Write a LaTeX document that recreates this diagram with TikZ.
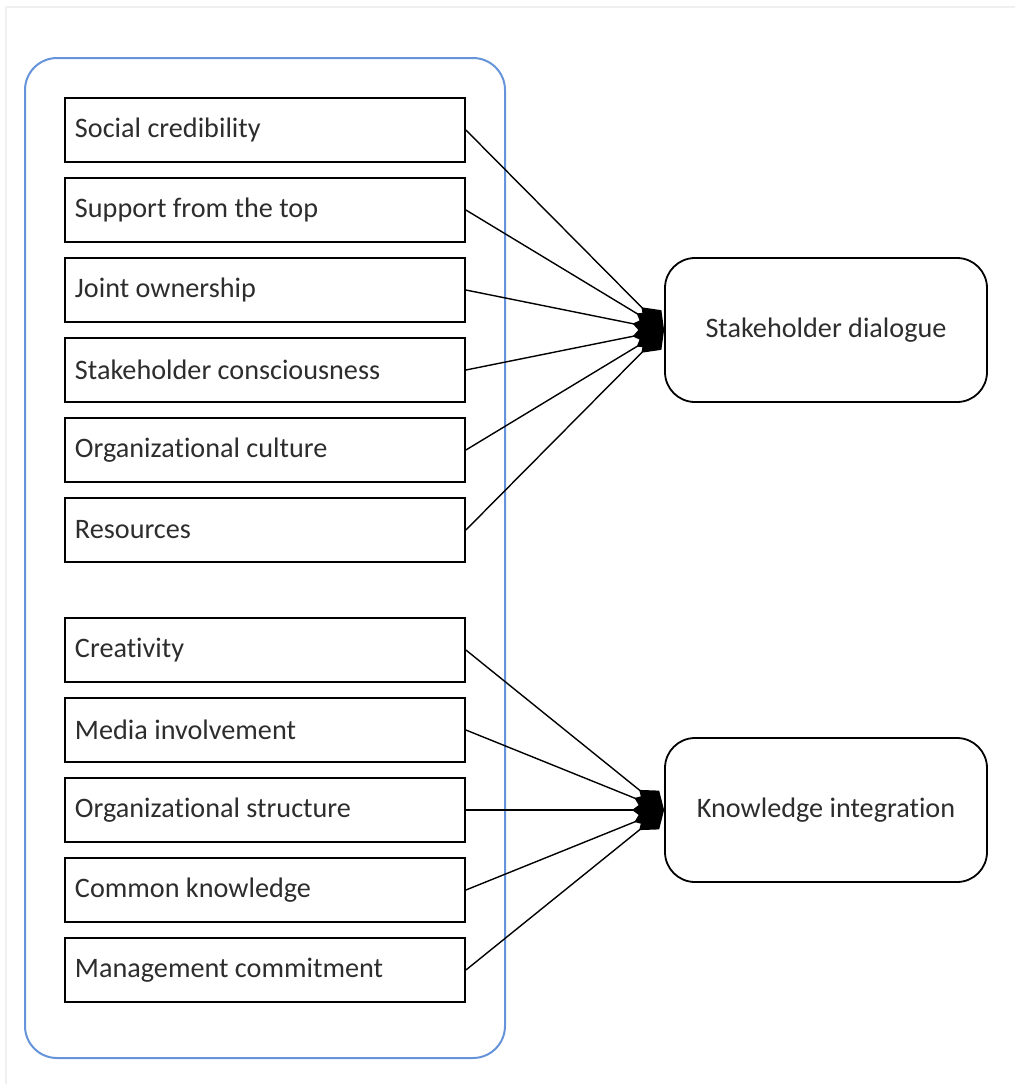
\documentclass[tikz,border=0pt]{standalone}
\usepackage{fontspec}
\setmainfont{Carlito}[Ligatures=NoCommon]
\usetikzlibrary{arrows.meta}
\definecolor{groupblue}{RGB}{102,148,218}
\definecolor{inktext}{RGB}{45,45,45}
\begin{document}
\begin{tikzpicture}[x=0.5pt,y=-0.5pt,
  factor/.style={draw=black, line width=0.9pt, rectangle, minimum width=200pt,
    minimum height=32pt, text width=190pt, inner xsep=5pt, align=flush left,
    font=\fontsize{14.1}{16}\selectfont, text=inktext},
  outcome/.style={draw=black, line width=0.9pt, rectangle, rounded corners=15pt,
    minimum width=161pt, minimum height=72pt, align=center,
    font=\fontsize{14.1}{16}\selectfont, text=inktext},
  link/.style={line width=0.7pt, -{Diamond[length=16pt,width=12pt]}}]
  \useasboundingbox (0,0) rectangle (1015,1084);
  % faint outer frame
  \draw[black!6, line width=0.6pt] (6,1090) -- (6,7) -- (1020,7);
  % grouping frame around the factors
  \draw[groupblue, line width=1pt, rounded corners=16pt] (25,58) rectangle (505,1058);
  % factor boxes
  \node[factor] (f1) at (265,130) {Social credibility};
  \node[factor] (f2) at (265,210) {Support from the top};
  \node[factor] (f3) at (265,290) {Joint ownership};
  \node[factor] (f4) at (265,370) {Stakeholder consciousness};
  \node[factor] (f5) at (265,450) {Organizational culture};
  \node[factor] (f6) at (265,530) {Resources};
  \node[factor] (g1) at (265,650) {Creativity};
  \node[factor] (g2) at (265,730) {Media involvement};
  \node[factor] (g3) at (265,810) {Organizational structure};
  \node[factor] (g4) at (265,890) {Common knowledge};
  \node[factor] (g5) at (265,970) {Management commitment};
  % outcomes
  \node[outcome] (sd) at (826,330) {Stakeholder dialogue};
  \node[outcome] (ki) at (826,810) {Knowledge integration};
  % connectors
  \foreach \n in {f1,f2,f3,f4,f5,f6} \draw[link] (\n.east) -- (sd.west);
  \foreach \n in {g1,g2,g3,g4,g5} \draw[link] (\n.east) -- (ki.west);
\end{tikzpicture}
\end{document}
